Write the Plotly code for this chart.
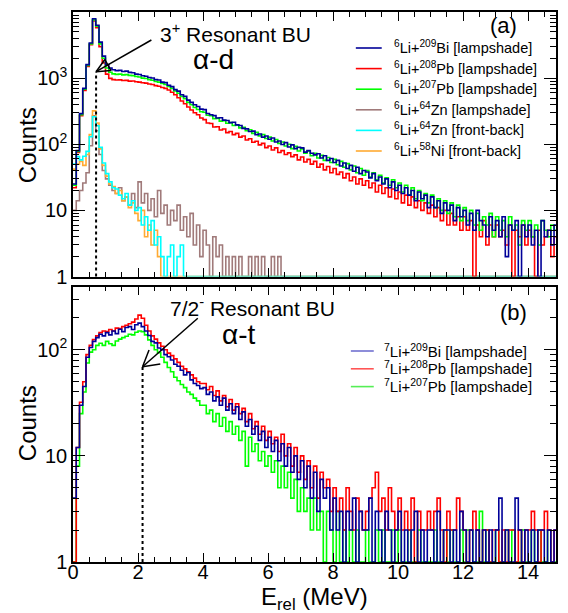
import numpy as np
import plotly.graph_objects as go

# ---------------- data (counts per 0.1 MeV bin) ----------------
bin_edges = np.round(np.arange(0, 15.0001, 0.1), 2)  # 151 edges, 150 bins

# panel (a): 6Li
li6_bi209 = [
    25, 80, 290, 700, 1600, 3400, 7900, 6300, 3500, 2150,
    1600, 1420, 1340, 1300, 1310, 1260, 1275, 1220, 1205, 1150,
    1135, 1085, 1070, 1020, 1005, 950, 935, 870, 855, 780,
    745, 670, 635, 560, 530, 465, 430, 395, 372, 340,
    334, 292, 280, 271, 250, 251, 232, 229, 212, 215,
    196, 192, 174, 171, 156, 158, 140, 143, 128, 133,
    119, 124, 108, 112, 99, 106, 91, 98, 86, 90,
    88, 76, 80, 73, 69, 72, 62, 67, 57, 61,
    53, 57, 47, 52, 43, 48, 39, 45, 36, 40,
    38, 31, 36, 28, 32, 25, 30, 22, 27, 20,
    24, 18, 22, 17, 20, 14, 19, 15, 17, 11,
    16, 11, 14, 9, 13, 10, 12, 7, 11, 8,
    10, 6, 9, 5, 10, 7, 6, 4, 8, 5,
    7, 4, 8, 2, 6, 5, 7, 0, 6, 4,
    6, 3, 5, 0, 7, 4, 5, 3, 6, 4]
li6_pb208 = [
    22, 75, 270, 650, 1500, 3200, 7300, 5800, 3000, 1700,
    1150, 990, 950, 935, 940, 920, 925, 900, 905, 880,
    870, 850, 840, 815, 800, 770, 755, 720, 700, 660,
    610, 560, 505, 450, 410, 365, 330, 300, 280, 250,
    236, 210, 206, 182, 184, 164, 170, 150, 156, 140,
    146, 128, 133, 116, 121, 107, 111, 98, 103, 89,
    94, 82, 88, 75, 80, 70, 74, 65, 69, 58,
    64, 54, 59, 50, 55, 45, 50, 41, 46, 37,
    43, 35, 38, 31, 36, 28, 32, 25, 30, 24,
    28, 22, 26, 19, 24, 18, 22, 16, 21, 15,
    19, 13, 17, 12, 16, 11, 14, 10, 13, 9,
    12, 8, 11, 7, 10, 6, 9, 6, 8, 5,
    8, 5, 7, 0, 6, 4, 7, 3, 6, 4,
    6, 4, 5, 3, 6, 0, 5, 4, 6, 3,
    5, 4, 0, 5, 3, 4, 5, 2, 4, 3]
li6_pb207 = [
    24, 78, 280, 680, 1550, 3300, 7600, 6100, 3300, 2000,
    1420, 1230, 1160, 1140, 1150, 1120, 1130, 1100, 1090, 1060,
    1040, 1000, 985, 950, 930, 890, 870, 830, 800, 750,
    700, 640, 590, 530, 490, 430, 395, 360, 335, 310,
    305, 274, 270, 244, 246, 224, 228, 208, 212, 192,
    196, 177, 181, 160, 166, 146, 152, 134, 140, 122,
    128, 112, 118, 103, 108, 94, 100, 86, 93, 79,
    85, 73, 79, 67, 73, 62, 68, 57, 63, 53,
    59, 49, 55, 45, 51, 41, 47, 37, 43, 34,
    40, 32, 37, 29, 34, 26, 31, 24, 29, 22,
    26, 19, 24, 17, 22, 15, 20, 14, 18, 13,
    17, 11, 15, 10, 14, 9, 13, 8, 12, 7,
    11, 7, 10, 6, 9, 5, 8, 6, 9, 4,
    8, 5, 7, 4, 8, 5, 6, 3, 7, 5,
    7, 4, 6, 3, 7, 5, 4, 6, 5, 3]
li6_zn64_ls = [
    10, 14, 20, 26, 37, 95, 270, 160, 70, 40,
    30, 24, 20, 18, 22, 14, 16, 12, 18, 11,
    27, 13, 18, 10, 15, 8, 20, 9, 12, 6,
    10, 7, 12, 5, 8, 4, 9, 3, 6, 2,
    5, 3, 0, 4, 2, 3, 0, 2, 0, 2,
    0, 2, 0, 0, 2, 0, 2, 0, 2, 0,
    0, 2, 0, 2, 0, 0, 0, 0, 0, 0,
    0, 0, 0, 0, 0, 0, 0, 0, 0, 0,
    0, 0, 0, 0, 0, 0, 0, 0, 0, 0,
    0, 0, 0, 0, 0, 0, 0, 0, 0, 0,
    0, 0, 0, 0, 0, 0, 0, 0, 0, 0,
    0, 0, 0, 0, 0, 0, 0, 0, 0, 0,
    0, 0, 0, 0, 0, 0, 0, 0, 0, 0,
    0, 0, 0, 0, 0, 0, 0, 0, 0, 0,
    0, 0, 0, 0, 0, 0, 0, 0, 0, 0]
li6_zn64_fb = [
    50, 65, 58, 66, 78, 130, 260, 190, 90, 52,
    36, 27, 22, 21, 17, 15, 18, 12, 14, 10,
    11, 6, 8, 5, 7, 3, 4, 2, 0, 2,
    3, 0, 2, 3, 0, 0, 0, 0, 0, 0,
    0, 0, 0, 0, 0, 0, 0, 0, 0, 0,
    0, 0, 0, 0, 0, 0, 0, 0, 0, 0,
    0, 0, 0, 0, 0, 0, 0, 0, 0, 0,
    0, 0, 0, 0, 0, 0, 0, 0, 0, 0,
    0, 0, 0, 0, 0, 0, 0, 0, 0, 0,
    0, 0, 0, 0, 0, 0, 0, 0, 0, 0,
    0, 0, 0, 0, 0, 0, 0, 0, 0, 0,
    0, 0, 0, 0, 0, 0, 0, 0, 0, 0,
    0, 0, 0, 0, 0, 0, 0, 0, 0, 0,
    0, 0, 0, 0, 0, 0, 0, 0, 0, 0,
    0, 0, 0, 0, 0, 0, 0, 0, 0, 0]
li6_ni58_fb = [
    42, 50, 55, 48, 70, 140, 320, 210, 85, 48,
    33, 25, 23, 18, 20, 14, 16, 11, 13, 9,
    7, 10, 4, 6, 3, 5, 2, 0, 0, 0,
    0, 0, 0, 0, 0, 0, 0, 0, 0, 0,
    0, 0, 0, 0, 0, 0, 0, 0, 0, 0,
    0, 0, 0, 0, 0, 0, 0, 0, 0, 0,
    0, 0, 0, 0, 0, 0, 0, 0, 0, 0,
    0, 0, 0, 0, 0, 0, 0, 0, 0, 0,
    0, 0, 0, 0, 0, 0, 0, 0, 0, 0,
    0, 0, 0, 0, 0, 0, 0, 0, 0, 0,
    0, 0, 0, 0, 0, 0, 0, 0, 0, 0,
    0, 0, 0, 0, 0, 0, 0, 0, 0, 0,
    0, 0, 0, 0, 0, 0, 0, 0, 0, 0,
    0, 0, 0, 0, 0, 0, 0, 0, 0, 0,
    0, 0, 0, 0, 0, 0, 0, 0, 0, 0]

# panel (b): 7Li
li7_bi209 = [
    4, 12, 30, 45, 85, 105, 120, 130, 140, 135,
    145, 138, 150, 142, 156, 148, 162, 165, 155, 172,
    178, 165, 150, 136, 120, 116, 104, 100, 90, 86,
    80, 73, 70, 64, 58, 61, 52, 48, 46, 43,
    44, 38, 40, 33, 36, 30, 35, 27, 31, 25,
    29, 22, 26, 19, 22, 16, 19, 14, 17, 12,
    15, 11, 14, 9, 13, 8, 12, 7, 10, 6,
    9, 5, 8, 4, 7, 3, 6, 4, 5, 2,
    4, 2, 3, 0, 3, 2, 4, 1, 3, 2,
    2, 4, 1, 3, 2, 0, 3, 2, 1, 2,
    3, 1, 2, 0, 2, 3, 1, 2, 0, 2,
    2, 0, 3, 1, 2, 2, 0, 2, 1, 3,
    2, 1, 2, 0, 2, 1, 2, 0, 2, 1,
    2, 4, 0, 2, 1, 0, 4, 2, 0, 2,
    1, 2, 0, 2, 2, 1, 2, 0, 2, 1]
li7_pb208 = [
    1, 12, 32, 50, 90, 110, 125, 135, 145, 150,
    148, 155, 150, 160, 158, 165, 170, 176, 182, 195,
    212, 198, 170, 150, 135, 126, 116, 108, 100, 93,
    88, 82, 76, 70, 66, 62, 58, 54, 50, 48,
    48, 42, 45, 37, 41, 33, 37, 29, 34, 27,
    31, 25, 28, 21, 25, 18, 21, 16, 19, 14,
    17, 13, 15, 11, 16, 10, 13, 8, 12, 7,
    10, 6, 9, 5, 8, 4, 7, 5, 6, 3,
    5, 3, 4, 2, 5, 3, 2, 4, 3, 2,
    3, 4, 5, 7, 3, 4, 2, 5, 3, 2,
    4, 2, 3, 2, 4, 0, 3, 2, 2, 3,
    2, 3, 4, 2, 0, 3, 2, 2, 4, 3,
    2, 0, 2, 3, 2, 1, 2, 2, 0, 2,
    2, 1, 2, 0, 2, 2, 1, 2, 0, 2,
    2, 3, 2, 0, 2, 3, 2, 1, 2, 2]
li7_pb207 = [
    0, 8, 25, 40, 75, 95, 100, 110, 115, 110,
    120, 114, 110, 121, 126, 130, 134, 140, 138, 146,
    150, 148, 138, 124, 110, 100, 94, 85, 76, 68,
    62, 55, 51, 47, 44, 40, 38, 35, 33, 30,
    30, 25, 27, 21, 25, 19, 23, 17, 21, 16,
    19, 14, 17, 8, 15, 11, 13, 9, 11, 8,
    10, 7, 9, 5, 8, 5, 7, 4, 6, 3,
    5, 3, 4, 2, 4, 2, 3, 1, 3, 2,
    0, 3, 0, 2, 1, 2, 0, 2, 0, 1,
    2, 0, 1, 2, 0, 2, 1, 0, 2, 0,
    2, 1, 0, 2, 0, 1, 2, 0, 1, 0,
    0, 2, 0, 1, 2, 0, 2, 0, 1, 2,
    0, 2, 2, 0, 1, 3, 0, 2, 0, 1,
    2, 0, 1, 2, 0, 2, 0, 1, 2, 0,
    1, 2, 0, 2, 0, 1, 2, 0, 1, 0]

E_res_6li = 0.71   # 3+ resonance (MeV)
E_res_7li = 2.14   # 7/2- resonance (MeV)

y_tickvals_a = [1, 10, 100, 1000, 10000]
y_ticktext_a = ["1", "10", "10<sup>2</sup>", "10<sup>3</sup>", "10<sup>4</sup>"]
y_tickvals_b = [1, 10, 100]
y_ticktext_b = ["1", "10", "10<sup>2</sup>"]

legend_a = ["<sup>6</sup>Li+<sup>209</sup>Bi [lampshade]",
            "<sup>6</sup>Li+<sup>208</sup>Pb [lampshade]",
            "<sup>6</sup>Li+<sup>207</sup>Pb [lampshade]",
            "<sup>6</sup>Li+<sup>64</sup>Zn [lampshade]",
            "<sup>6</sup>Li+<sup>64</sup>Zn [front-back]",
            "<sup>6</sup>Li+<sup>58</sup>Ni [front-back]"]
legend_b = ["<sup>7</sup>Li+<sup>209</sup>Bi [lampshade]",
            "<sup>7</sup>Li+<sup>208</sup>Pb [lampshade]",
            "<sup>7</sup>Li+<sup>207</sup>Pb [lampshade]"]

# ---------------- styling ----------------
FONT = "Liberation Sans, Arial, Helvetica, sans-serif"
BLUE, RED, GREEN = "#000099", "#ff0000", "#00ff00"
BROWN, CYAN, ORANGE = "#a07a7a", "#00ffff", "#ffaa33"
colors_a = [BLUE, RED, GREEN, BROWN, CYAN, ORANGE]
colors_b = [BLUE, RED, GREEN]
legend_line_b = ["#7070d0", "#ff5555", "#55ee55"]

W, H = 568, 613
ML, MR, MT, MB = 73, 10, 12, 51
PW, PH = W - ML - MR, H - MT - MB
XMAX = 14.86


def px(xp, yp):
    return (xp - ML) / PW, (H - MB - yp) / PH


def xpix(e):
    return ML + PW * e / XMAX


def step_y(vals):
    v = np.maximum(np.asarray(vals, dtype=float), 1.0)
    return np.append(v, v[-1])


fig = go.Figure()

series_a = [(li6_zn64_ls, 3), (li6_ni58_fb, 5), (li6_zn64_fb, 4),
            (li6_pb208, 1), (li6_pb207, 2), (li6_bi209, 0)]
for vals, i in series_a:
    fig.add_trace(go.Scatter(x=bin_edges, y=step_y(vals), mode="lines",
                             line=dict(color=colors_a[i], width=1.6, shape="hv"),
                             name=legend_a[i], showlegend=False,
                             xaxis="x", yaxis="y"))
series_b = [(li7_pb207, 2), (li7_pb208, 1), (li7_bi209, 0)]
for vals, i in series_b:
    fig.add_trace(go.Scatter(x=bin_edges, y=step_y(vals), mode="lines",
                             line=dict(color=colors_b[i], width=1.6, shape="hv"),
                             name=legend_b[i], showlegend=False,
                             xaxis="x2", yaxis="y2"))

top_a = px(0, 276.5)[1]
top_b = px(0, 286.7)[1]

axis_common = dict(showline=True, linecolor="black", linewidth=1.5, mirror="allticks",
                   ticks="inside", tickcolor="black", showgrid=False, zeroline=False,
                   tickfont=dict(family=FONT, size=20, color="black"))

fig.update_layout(
    width=W, height=H, margin=dict(l=ML, r=MR, t=MT, b=MB),
    paper_bgcolor="white", plot_bgcolor="white", showlegend=False,
    xaxis=dict(domain=[0, 1], range=[0, XMAX], anchor="y", tick0=0, dtick=2, ticklen=9,
               showticklabels=False,
               minor=dict(dtick=0.5, ticks="inside", ticklen=5, tickcolor="black"),
               **axis_common),
    xaxis2=dict(domain=[0, 1], range=[0, XMAX], anchor="y2", tick0=0, dtick=2, ticklen=9,
                showticklabels=True, ticklabelstandoff=-9,
                minor=dict(dtick=0.5, ticks="inside", ticklen=5, tickcolor="black"),
                **axis_common),
    yaxis=dict(domain=[top_a, 1], type="log", range=[0, 4], anchor="x",
               tickvals=y_tickvals_a, ticktext=y_ticktext_a, ticklen=12,
               minor=dict(tickvals=[m * 10 ** d for d in range(4) for m in range(2, 10)],
                          ticks="inside", ticklen=6, tickcolor="black"),
               **axis_common),
    yaxis2=dict(domain=[0, top_b], type="log", range=[0, 2.594], anchor="x2",
                tickvals=y_tickvals_b, ticktext=y_ticktext_b, ticklen=12,
                minor=dict(tickvals=[m * 10 ** d for d in range(3) for m in range(2, 10)],
                           ticks="inside", ticklen=6, tickcolor="black"),
                **axis_common),
)

ann = []


def add_text(text, xp, yp, size, xanchor="center", yanchor="middle"):
    x, y = px(xp, yp)
    ann.append(dict(text=text, x=x, y=y, xref="paper", yref="paper", showarrow=False,
                    xanchor=xanchor, yanchor=yanchor,
                    font=dict(family=FONT, size=size, color="black")))


add_text("Counts", 27, 145, 24)
ann[-1]["textangle"] = -90
add_text("Counts", 27, 423, 24)
ann[-1]["textangle"] = -90
add_text("E<sub>rel</sub> (MeV)", 315, 598, 24)
add_text("(a)", 505, 25, 22)
add_text("(b)", 515, 312, 22)
add_text("3<sup>+</sup> Resonant BU", 236, 33, 21)
add_text("α-d", 214, 59, 28)
add_text("7/2<sup>-</sup> Resonant BU", 253, 307, 21)
add_text("α-t", 240, 334, 28)

shapes = []
for i, t in enumerate(legend_a):
    yy = 47 + 20.6 * i
    add_text(t, 393, yy, 14.5, xanchor="left")
    x0, y0 = px(357, yy + 1)
    x1, _ = px(383, yy + 1)
    shapes.append(dict(type="line", xref="paper", yref="paper", x0=x0, x1=x1, y0=y0, y1=y0,
                       line=dict(color=colors_a[i], width=1.6)))
for i, t in enumerate(legend_b):
    yy = 350 + 17.8 * i
    add_text(t, 383, yy, 15, xanchor="left")
    x0, y0 = px(352, yy + 1)
    x1, _ = px(375, yy + 1)
    shapes.append(dict(type="line", xref="paper", yref="paper", x0=x0, x1=x1, y0=y0, y1=y0,
                       line=dict(color=legend_line_b[i], width=1.6)))

# dashed resonance markers
tip_a = (xpix(E_res_6li), 71.7)
tip_b = (xpix(E_res_7li), 366.7)
shapes.append(dict(type="line", xref="x", yref="paper", x0=E_res_6li, x1=E_res_6li,
                   y0=px(0, 276.5)[1], y1=px(0, tip_a[1])[1],
                   line=dict(color="black", width=2, dash="dot")))
shapes.append(dict(type="line", xref="x2", yref="paper", x0=E_res_7li, x1=E_res_7li,
                   y0=0, y1=px(0, tip_b[1])[1],
                   line=dict(color="black", width=2, dash="dot")))


def seg(p, q, w=1.5):
    a, b = px(*p), px(*q)
    return dict(type="line", xref="paper", yref="paper", x0=a[0], y0=a[1], x1=b[0], y1=b[1],
                line=dict(color="black", width=w))


# arrow (a): open triangle head
tail_a = (151.7, 40)
shapes.append(seg(tail_a, tip_a))
wa1 = (tip_a[0] + 8.8, tip_a[1] - 12.2)
wa2 = (tip_a[0] + 15.0, tip_a[1] - 1.1)
shapes += [seg(tip_a, wa1), seg(wa1, wa2), seg(wa2, tip_a)]
# arrow (b): open V head
tail_b = (198.3, 318.3)
shapes.append(seg(tail_b, tip_b))
shapes += [seg(tip_b, (tip_b[0] + 6.5, tip_b[1] - 16.8)),
           seg(tip_b, (tip_b[0] + 17.8, tip_b[1] - 2.8))]

fig.update_layout(annotations=ann, shapes=shapes)
fig.write_html("out.html", config={"displayModeBar": False},
               post_script="document.body.style.margin='0';document.body.style.overflow='hidden';")
